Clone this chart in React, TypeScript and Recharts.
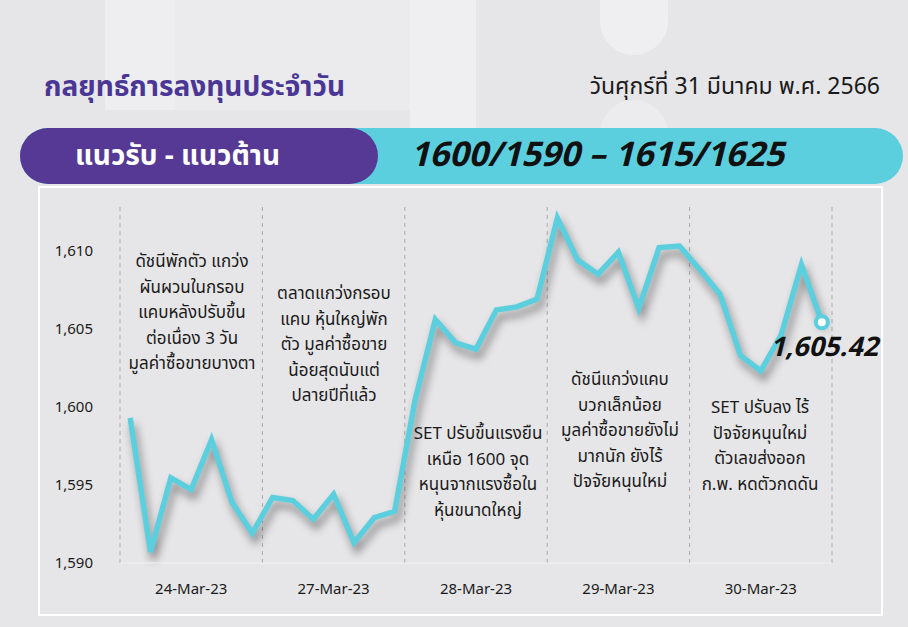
import { LineChart, Line, XAxis, YAxis, ReferenceLine, LabelList } from "recharts"

// วันที่ของแต่ละช่วง
const DAYS = ["24-Mar-23", "27-Mar-23", "28-Mar-23", "29-Mar-23", "30-Mar-23"]

// ดัชนี SET รายชั่วโมง (7 จุดต่อวัน)
const SET_INDEX = [
  1599.3, 1590.7, 1595.45, 1594.7, 1597.9, 1593.9, 1591.9,
  1594.2, 1594.0, 1592.8, 1594.4, 1591.3, 1592.9, 1593.3,
  1600.4, 1605.6, 1604.1, 1603.7, 1606.2, 1606.4, 1606.9,
  1612.1, 1609.4, 1608.5, 1609.9, 1606.3, 1610.2, 1610.3,
  1608.8, 1607.2, 1603.3, 1602.3, 1604.6, 1609.1, 1605.42,
]

const Y_TICKS = [1590, 1595, 1600, 1605, 1610]
const DAY_TICKS = [3, 10, 17, 24, 31]
const DAY_BOUNDS = [-0.5, 6.5, 13.5, 20.5, 27.5, 34.5]

// คำอธิบายแต่ละวัน
const NOTES = [
  ["ดัชนีพักตัว แกว่ง", "ผันผวนในกรอบ", "แคบหลังปรับขึ้น", "ต่อเนื่อง 3 วัน", "มูลค่าซื้อขายบางตา"],
  ["ตลาดแกว่งกรอบ", "แคบ หุ้นใหญ่พัก", "ตัว มูลค่าซื้อขาย", "น้อยสุดนับแต่", "ปลายปีที่แล้ว"],
  ["SET ปรับขึ้นแรงยืน", "เหนือ 1600 จุด", "หนุนจากแรงซื้อใน", "หุ้นขนาดใหญ่"],
  ["ดัชนีแกว่งแคบ", "บวกเล็กน้อย", "มูลค่าซื้อขายยังไม่", "มากนัก ยังไร้", "ปัจจัยหนุนใหม่"],
  ["SET ปรับลง ไร้", "ปัจจัยหนุนใหม่", "ตัวเลขส่งออก", "ก.พ. หดตัวกดดัน"],
]
const NOTE_TOP = [250, 282, 422, 368, 396]
const NOTE_X = [192, 334, 478, 620, 760]

const TITLE = "กลยุทธ์การลงทุนประจำวัน"
const DATE_TEXT = "วันศุกร์ที่ 31 มีนาคม พ.ศ. 2566"
const RANGE_LABEL = "แนวรับ - แนวต้าน"
const RANGE_VALUE = "1600/1590 – 1615/1625"

const data = SET_INDEX.map((v, i) => ({ i, v }))

const FONT = "'Noto Sans Thai', 'Noto Sans', sans-serif"
const CYAN = "#5ccfdf"
const PURPLE = "#553995"

const lastDot = (props: any) => {
  const { cx, cy, index } = props
  if (index !== SET_INDEX.length - 1) return <g key={`d-${index}`} />
  return <circle key={`d-${index}`} cx={cx} cy={cy} r={6} fill="#fff" stroke={CYAN} strokeWidth={4} />
}

const lastLabel = (props: any) => {
  const { x, y, index } = props
  if (index !== SET_INDEX.length - 1) return null
  return (
    <text x={x + 2} y={y + 34} textAnchor="middle" fontSize={27} fontWeight={700} fontStyle="italic" fill="#111" fontFamily={FONT}>
      {SET_INDEX[index].toLocaleString("en-US", { minimumFractionDigits: 2 })}
    </text>
  )
}

export default function App() {
  return (
    <div style={{ position: "absolute", left: 0, top: 0, width: 908, height: 627, background: "#e6e6e8", overflow: "hidden", fontFamily: FONT }}>
      <style>{`.recharts-line-curve { filter: drop-shadow(3px 7px 4px rgba(0,0,0,0.42)); }`}</style>

      {/* พื้นหลังตกแต่ง */}
      <div style={{ position: "absolute", left: 105, top: 0, width: 70, height: 110, background: "#eeeef0" }} />
      <div style={{ position: "absolute", left: 175, top: 0, width: 235, height: 110, background: "#ebebed" }} />
      <div style={{ position: "absolute", left: 410, top: 0, width: 66, height: 128, background: "#efeff1" }} />
      <div style={{ position: "absolute", left: 600, top: 0, width: 68, height: 55, background: "#efeff1", borderRadius: "0 0 34px 34px" }} />
      <div style={{ position: "absolute", left: 600, top: 100, width: 68, height: 60, background: "#ececee", borderRadius: "34px 34px 0 0" }} />

      <div style={{ position: "absolute", left: 44, top: 66, fontSize: 28, fontWeight: 700, color: "#4a3795" }}>{TITLE}</div>
      <div style={{ position: "absolute", right: 28, top: 70, fontSize: 23, color: "#1a1a1a" }}>{DATE_TEXT}</div>

      <div style={{ position: "absolute", left: 20, top: 128, width: 883, height: 56, borderRadius: 28, background: CYAN }} />
      <div style={{ position: "absolute", left: 20, top: 128, width: 358, height: 56, borderRadius: 28, background: PURPLE }} />
      <div style={{ position: "absolute", left: 75, top: 135, fontSize: 28, fontWeight: 700, color: "#fff" }}>{RANGE_LABEL}</div>
      <div style={{ position: "absolute", left: 410, top: 130, fontSize: 34, fontWeight: 700, fontStyle: "italic", color: "#111" }}>{RANGE_VALUE}</div>

      <div style={{ position: "absolute", left: 38, top: 186, width: 841, height: 426, border: "2px solid #fff", background: "#e6e6e8" }} />

      <div style={{ position: "absolute", left: 0, top: 0 }}>
        <LineChart width={908} height={627} data={data} margin={{ top: 207, right: 76, bottom: 34, left: 60 }}>
          <XAxis
            dataKey="i"
            type="number"
            domain={[-0.5, 34.5]}
            ticks={DAY_TICKS}
            tickFormatter={(i: number) => DAYS[(i - 3) / 7]}
            height={30}
            axisLine={{ stroke: "#f2f2f4" }}
            tickLine={false}
            tickSize={0}
            tickMargin={20}
            tick={{ fill: "#1a1a1a", fontSize: 15, fontFamily: FONT }}
          />
          <YAxis
            type="number"
            domain={[1590, 1612.8]}
            ticks={Y_TICKS}
            width={60}
            axisLine={false}
            tickLine={false}
            tickSize={0}
            tickMargin={27}
            tickFormatter={(v: number) => v.toLocaleString("en-US")}
            tick={{ fill: "#1a1a1a", fontSize: 15, fontFamily: FONT }}
          />
          {DAY_BOUNDS.map((b) => (
            <ReferenceLine key={b} x={b} stroke="#a8a8ab" strokeDasharray="4 4" />
          ))}
          <Line
            type="linear"
            dataKey="v"
            stroke={CYAN}
            strokeWidth={5.5}
            dot={lastDot}
            activeDot={false}
            isAnimationActive={false}
          >
            <LabelList dataKey="v" content={lastLabel} />
          </Line>
        </LineChart>
      </div>

      {NOTES.map((lines, d) => (
        <div
          key={d}
          style={{
            position: "absolute",
            left: NOTE_X[d] - 90,
            top: NOTE_TOP[d],
            width: 180,
            textAlign: "center",
            fontSize: 17,
            lineHeight: "25.5px",
            color: "#1a1a1a",
          }}
        >
          {lines.map((l, k) => (
            <div key={k}>{l}</div>
          ))}
        </div>
      ))}
    </div>
  )
}
